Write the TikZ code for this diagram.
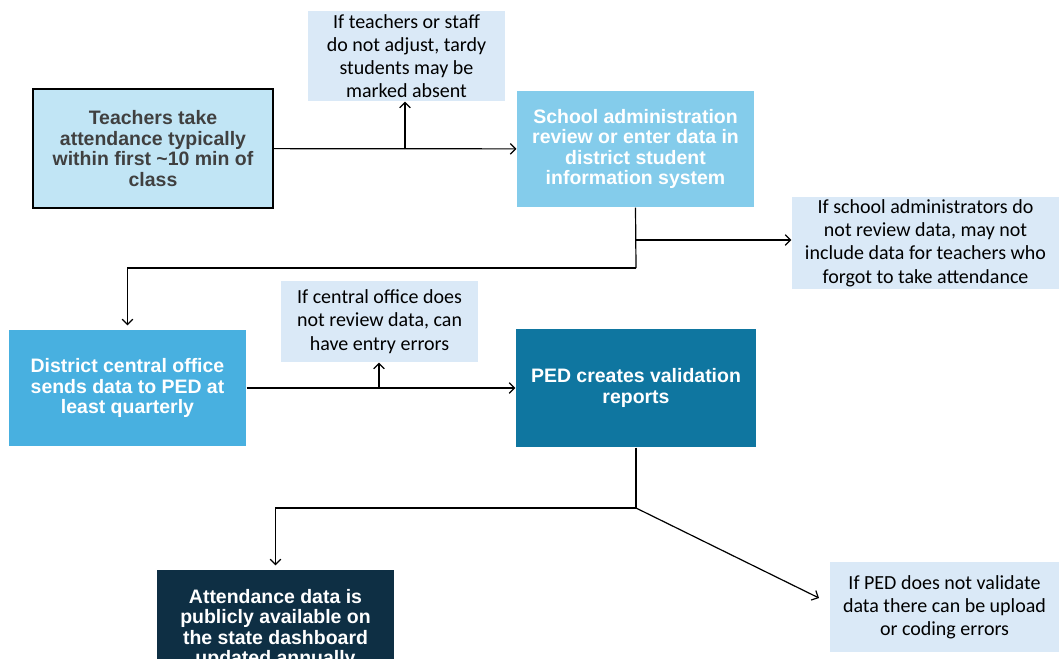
\documentclass[tikz,border=0pt]{standalone}
\usepackage{fontspec}
\setmainfont{Liberation Sans}
\newfontfamily\notefont{Carlito}
\usetikzlibrary{arrows.meta, positioning}

\definecolor{teachfill}{HTML}{C1E5F5}
\definecolor{teachtext}{HTML}{404040}
\definecolor{adminfill}{HTML}{84CCEB}
\definecolor{districtfill}{HTML}{48B0E0}
\definecolor{pedfill}{HTML}{0F76A0}
\definecolor{publicfill}{HTML}{0E2F44}
\definecolor{notefill}{HTML}{DAE9F7}

\tikzset{
	stage/.style={rectangle, align=center, text=white, inner sep=2pt,
		font=\bfseries\fontsize{14.6}{15.3}\selectfont,
		minimum width=177.75pt, minimum height=87pt},
	note/.style={rectangle, fill=notefill, align=center, inner sep=2pt,
		font=\notefont\fontsize{15}{17.4}\selectfont}
}

\begin{document}
\begin{tikzpicture}[x=0.75pt, y=-0.75pt, ->, >={Straight Barb[length=4pt, width=8pt]}, line width=0.9pt]
			\useasboundingbox (0,0) rectangle (1059,658);

			\node[stage, fill=teachfill, draw=black, line width=1.5pt, text=teachtext,
				minimum width=180pt, minimum height=89.25pt]	(t)	at (153, 148.5)	{Teachers take\\attendance typically\\within first \textasciitilde10 min of\\class};
			\node[stage, fill=adminfill]		(a)	at (635.5, 149)	{School administration\\review or enter data in\\district student\\information system};
			\node[stage, fill=districtfill]		(d)	at (127.5, 388)	{District central office\\sends data to PED at\\least quarterly};
			\node[stage, fill=pedfill, minimum width=180pt, minimum height=88.5pt]	(p)	at (636, 388)	{PED creates validation\\reports};
			\node[stage, fill=publicfill, minimum height=88.5pt]	(u)	at (275.5, 629)	{Attendance data is\\publicly available on\\the state dashboard\\updated annually};

			\node[note, minimum width=147.75pt, minimum height=67.5pt]	(n1)	at (406.5, 56)	{If teachers or staff\\do not adjust, tardy\\students may be\\marked absent};
			\node[note, minimum width=200.25pt, minimum height=69pt]		(n2)	at (925.5, 243)	{If school administrators do\\not review data, may not\\include data for teachers who\\forgot to take attendance};
			\node[note, minimum width=147.75pt, minimum height=60.75pt]	(n3)	at (379.5, 321.5)	{If central office does\\not review data, can\\have entry errors};
			\node[note, minimum width=171.75pt, minimum height=67.5pt]	(n4)	at (944.5, 607)	{If PED does not validate\\data there can be upload\\or coding errors};

			\coordinate	(j1)	at (405, 149);
			\coordinate	(j2)	at (636, 240);
			\coordinate	(k1)	at (636, 268);
			\coordinate	(j3)	at (379, 388);
			\coordinate	(k2)	at (636, 508);
			\coordinate	(k3)	at (819, 598);

			\draw (t) -- (a);
			\draw (j1) -- (j1 |- n1.south);
			\draw[-] (a.south) -- (k1);
			\draw (k1) -| ([yshift=3pt]d.north);
			\draw (j2) -- (n2.west |- j2);
			\draw (d) -- (p);
			\draw (j3) -- (j3 |- n3.south);
			\draw[-] (p.south) -- (k2);
			\draw[shorten >=3pt] (k2) -| (u.north);
			\draw (k2) -- (k3);
		\end{tikzpicture}
\end{document}
